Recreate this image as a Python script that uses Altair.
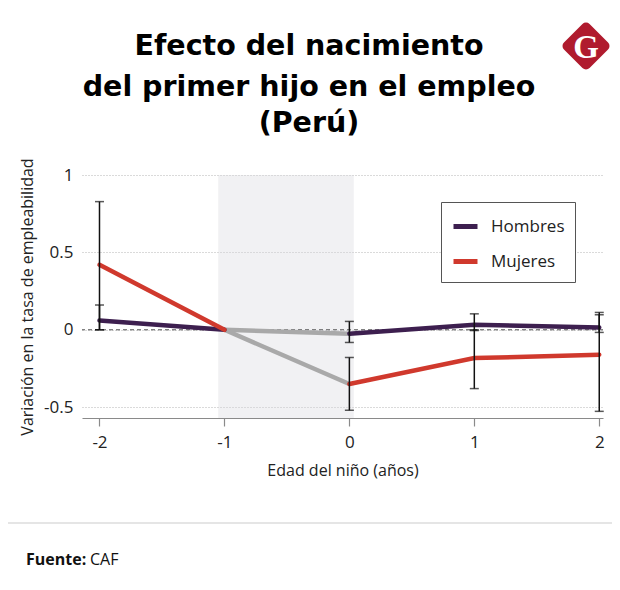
import altair as alt
import pandas as pd

# ---- data ----
edad = [-2, -1, 0, 1, 2]
hombres = [0.06, 0.0, -0.025, 0.032, 0.015]
mujeres = [0.42, 0.0, -0.35, -0.183, -0.161]
hombres_lo = [0.0, None, -0.082, -0.005, -0.017]
hombres_hi = [0.16, None, 0.054, 0.103, 0.097]
mujeres_lo = [0.0, None, -0.52, -0.38, -0.527]
mujeres_hi = [0.828, None, -0.179, 0.0, 0.112]
series = ["Hombres", "Mujeres"]
colores = ["#3d1f4f", "#d0392d"]
gris = "#a9a9a9"
sombra_x = [-1.05]
sombra_x2 = [0.035]
y_ticks = [-0.5, 0, 0.5, 1]
titulo = ["Efecto del nacimiento", "del primer hijo en el empleo", "(Perú)"]
fuente_label = ["Fuente:"]
fuente_valor = ["CAF"]
logo_letra = ["G"]
x_titulo = "Edad del niño (años)"
y_titulo = "Variación en la tasa de empleabilidad"

W, H = 521, 243
FONT = "Open Sans"
TFONT = "DejaVu Sans"

vals = {"Hombres": hombres, "Mujeres": mujeres}
los = {"Hombres": hombres_lo, "Mujeres": mujeres_lo}
his = {"Hombres": hombres_hi, "Mujeres": mujeres_hi}

line_rows, gray_rows, err_rows, cap_rows = [], [], [], []
for s in series:
    v = vals[s]
    for i in (0, 1):
        line_rows.append({"x": edad[i], "y": v[i], "serie": s, "seg": s + "a"})
    for i in (2, 3, 4):
        line_rows.append({"x": edad[i], "y": v[i], "serie": s, "seg": s + "b"})
    for i in (1, 2):
        gray_rows.append({"x": edad[i], "y": v[i], "serie": s})
    for i, x in enumerate(edad):
        if los[s][i] is None:
            continue
        err_rows.append({"x": x, "lo": los[s][i], "hi": his[s][i], "serie": s})
        cap_rows.append({"x": x, "y": los[s][i], "serie": s})
        cap_rows.append({"x": x, "y": his[s][i], "serie": s})

lines_df = pd.DataFrame(line_rows)
gray_df = pd.DataFrame(gray_rows)
err_df = pd.DataFrame(err_rows)
cap_df = pd.DataFrame(cap_rows)
shade_df = pd.DataFrame({"x": sombra_x, "x2": sombra_x2})
zero_df = pd.DataFrame({"y": [0]})

xscale = alt.Scale(domain=[-2.14, 2.03], nice=False, zero=False)
yscale = alt.Scale(domain=[-0.57, 1.0], nice=False, zero=False)

xaxis = alt.Axis(values=edad, title=x_titulo, labelExpr="'' + datum.value",
                 grid=False, domainColor="#8a8a8a", domainWidth=1.2,
                 tickColor="#8a8a8a", tickSize=8, tickWidth=1.2,
                 labelFont=FONT, labelFontSize=17, labelColor="#222",
                 labelPadding=8, labelFlush=False,
                 titleFont=FONT, titleFontSize=16, titleFontWeight="normal",
                 titleColor="#222", titlePadding=12)
yaxis = alt.Axis(values=y_ticks, title=y_titulo, labelExpr="'' + datum.value",
                 grid=True, gridDash=[1, 2], gridColor="#b5b5b5", gridWidth=1,
                 domain=False, ticks=False,
                 labelFont=FONT, labelFontSize=17, labelColor="#222",
                 labelPadding=9, labelFlush=False,
                 titleFont=FONT, titleFontSize=16, titleFontWeight="normal",
                 titleColor="#222", titlePadding=8)

shade = alt.Chart(shade_df).mark_rect(color="#d6d6de", opacity=0.35).encode(
    x=alt.X("x:Q", scale=xscale, axis=xaxis),
    x2="x2:Q",
    y=alt.value(0),
    y2=alt.value(H),
)

zero = alt.Chart(zero_df).mark_rule(color="#555", strokeWidth=1, strokeDash=[4, 3]).encode(
    y=alt.Y("y:Q", scale=yscale, axis=yaxis)
)

gray_lines = alt.Chart(gray_df).mark_line(color=gris, strokeWidth=4.5, strokeCap="round").encode(
    x="x:Q", y="y:Q", detail="serie:N"
)

color_lines = alt.Chart(lines_df).mark_line(strokeWidth=4.5, strokeCap="round").encode(
    x="x:Q",
    y="y:Q",
    detail="seg:N",
    color=alt.Color("serie:N", scale=alt.Scale(domain=series, range=colores),
                    legend=alt.Legend(orient="none", legendX=359, legendY=27, title=None,
                                      symbolType="stroke", symbolStrokeWidth=5, symbolSize=576,
                                      labelFont=FONT, labelFontSize=17, labelColor="#222",
                                      labelOffset=11, padding=10, rowPadding=10,
                                      strokeColor="#555", fillColor="white")),
)

err_rules = alt.Chart(err_df).mark_rule(color="#111", strokeWidth=1.5).encode(
    x="x:Q", y="lo:Q", y2="hi:Q"
)
err_caps = alt.Chart(cap_df).mark_tick(color="#111", orient="horizontal", size=9, thickness=1.5).encode(
    x="x:Q", y="y:Q"
)

def text_layer(txt, x, y, **kw):
    return alt.Chart(pd.DataFrame({"t": [txt]})).mark_text(**kw).encode(
        text="t:N", x=alt.value(x), y=alt.value(y)
    )

TX = 227
tkw = dict(font=TFONT, fontSize=28.5, fontWeight="bold", align="center", baseline="alphabetic", color="#000")
t1 = text_layer(titulo[0], TX, -120, **tkw)
t2 = text_layer(titulo[1], TX, -79, **tkw)
t3 = text_layer(titulo[2], TX, -43, **tkw)

logo_bg = alt.Chart(pd.DataFrame({"t": logo_letra})).mark_point(
    shape="diamond", size=1369, filled=True, color="#b01b2e",
    stroke="#b01b2e", strokeWidth=10, strokeJoin="round", opacity=1
).encode(x=alt.value(504), y=alt.value(-129))
logo_g = text_layer(logo_letra[0], 504, -117.5, font="Liberation Serif", fontSize=33,
                    fontWeight="bold", align="center", baseline="alphabetic", color="white")

footer_rule = alt.Chart(pd.DataFrame({"t": [0]})).mark_rule(color="#dcdcdc", strokeWidth=1.5).encode(
    x=alt.value(-74), x2=alt.value(530), y=alt.value(348)
)
f1 = text_layer(fuente_label[0], -56, 390, font=FONT, fontSize=16, fontWeight="bold",
                align="left", baseline="alphabetic", color="#111")
f2 = text_layer(fuente_valor[0], 8, 390, font=FONT, fontSize=16, fontWeight="normal",
                align="left", baseline="alphabetic", color="#111")

chart = alt.layer(
    shade, zero, gray_lines, color_lines, err_rules, err_caps,
    t1, t2, t3, logo_bg, logo_g, footer_rule, f1, f2
).properties(
    width=W, height=H,
    autosize=alt.AutoSizeParams(type="none"),
    padding={"left": 74, "top": 167, "right": 9, "bottom": 164},
).configure_view(stroke=None)

chart.save("out.html", embed_options={"renderer": "svg", "actions": False})
